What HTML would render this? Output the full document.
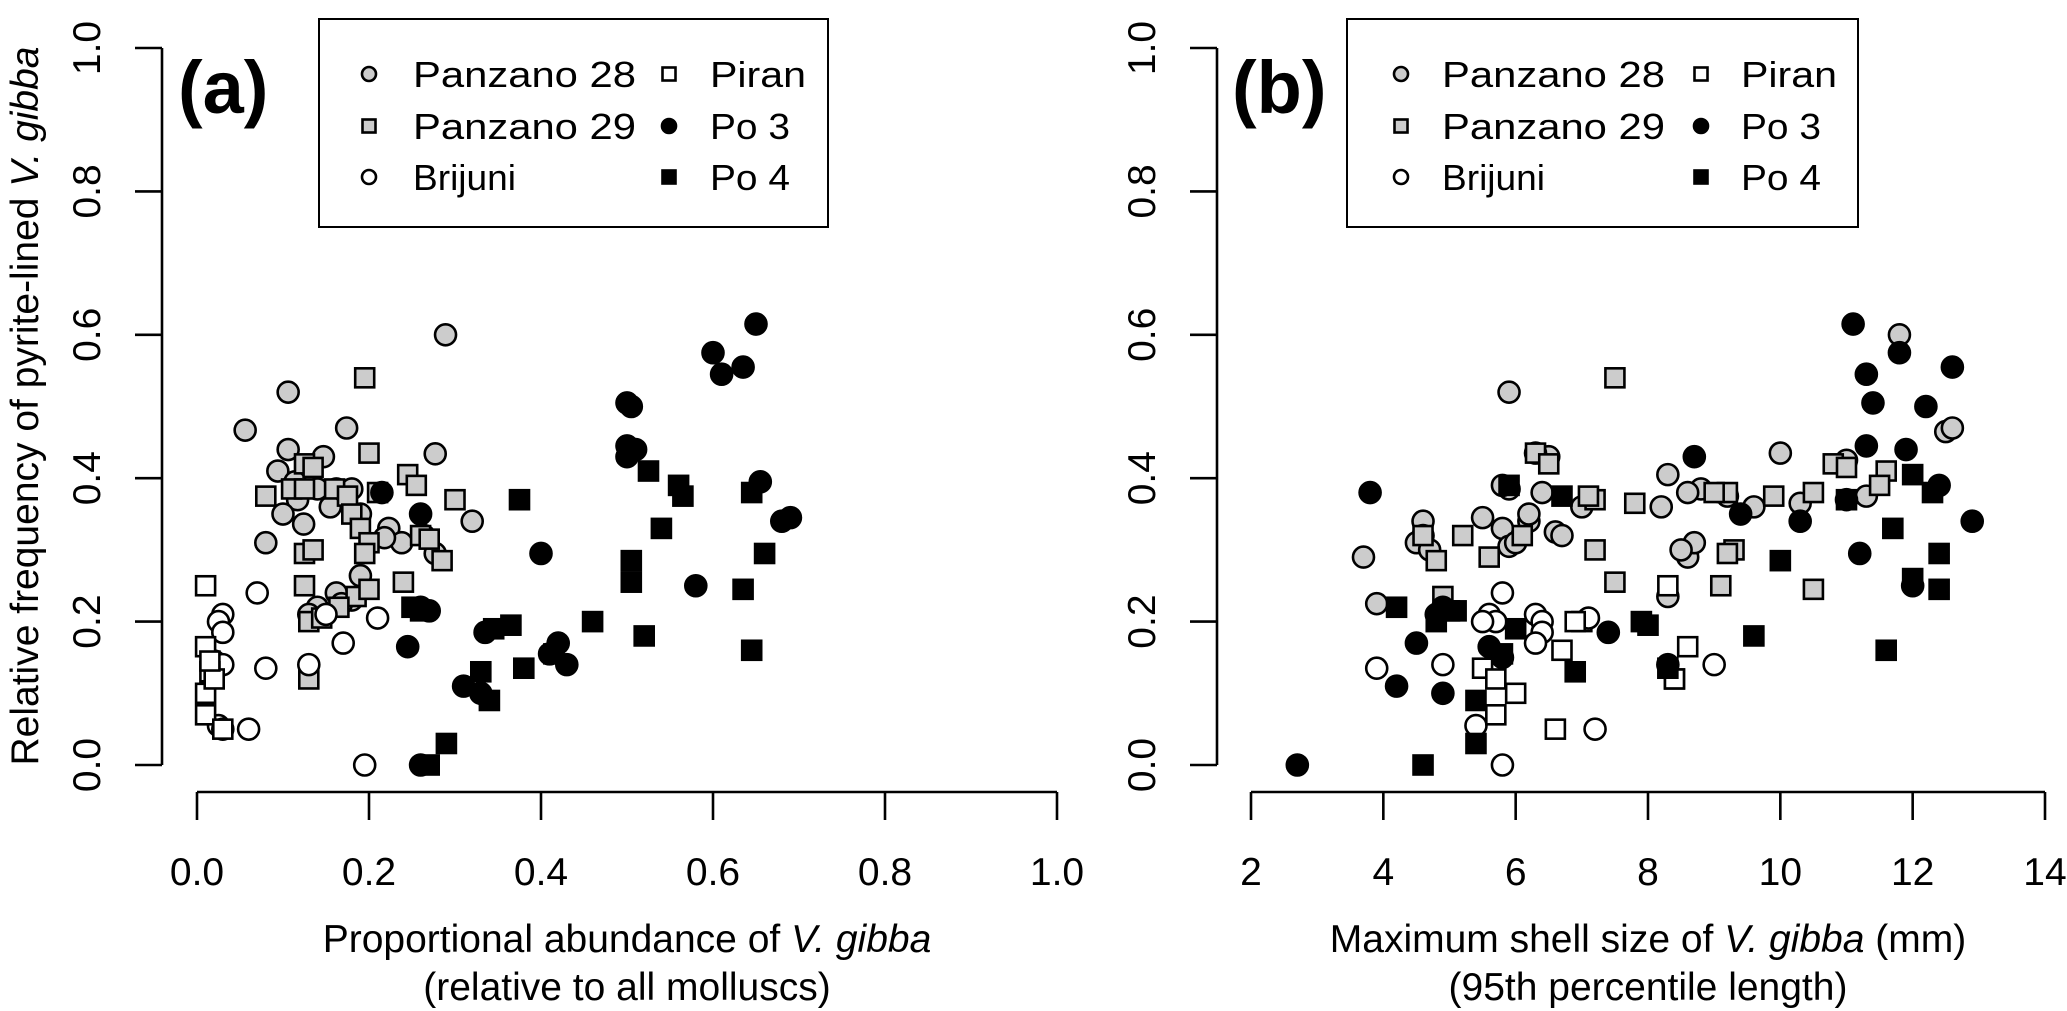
<!DOCTYPE html>
<html><head><meta charset="utf-8"><style>
html,body{margin:0;padding:0;background:#fff;}
svg{display:block;font-family:"Liberation Sans",Arial,sans-serif;}
</style></head><body>
<svg id="chart" width="2067" height="1011" viewBox="0 0 2067 1011" xmlns="http://www.w3.org/2000/svg"></svg>
<script>
// ---- data: panel (a) proportional abundance ----
const groups = ["Panzano 28","Panzano 29","Brijuni","Piran","Po 3","Po 4"];
const aP28x=[0.289,0.106,0.056,0.174,0.106,0.147,0.277,0.094,0.114,0.117,0.14,0.162,0.18,0.19,0.1,0.124,0.155,0.223,0.238,0.264,0.277,0.32,0.218,0.18,0.162,0.19,0.08,0.14,0.168,0.13];
const aP28y=[0.60,0.52,0.467,0.47,0.44,0.43,0.434,0.41,0.395,0.37,0.385,0.385,0.385,0.35,0.35,0.336,0.36,0.33,0.31,0.32,0.295,0.34,0.317,0.23,0.24,0.264,0.31,0.22,0.225,0.21];
const aP29x=[0.195,0.125,0.135,0.2,0.245,0.255,0.08,0.11,0.125,0.16,0.175,0.21,0.3,0.18,0.19,0.2,0.195,0.26,0.27,0.285,0.125,0.135,0.125,0.13,0.185,0.2,0.24,0.145,0.13,0.165];
const aP29y=[0.54,0.42,0.415,0.435,0.405,0.39,0.375,0.385,0.385,0.385,0.375,0.38,0.37,0.35,0.33,0.31,0.295,0.32,0.315,0.285,0.295,0.3,0.25,0.2,0.235,0.245,0.255,0.205,0.12,0.22];
const aBrx=[0.03,0.025,0.03,0.02,0.03,0.07,0.08,0.06,0.025,0.03,0.13,0.15,0.17,0.21,0.195];
const aBry=[0.21,0.2,0.185,0.145,0.14,0.24,0.135,0.05,0.055,0.05,0.14,0.21,0.17,0.205,0.0];
const aPix=[0.01,0.01,0.01,0.015,0.02,0.01,0.03,0.015];
const aPiy=[0.25,0.165,0.1,0.13,0.12,0.07,0.05,0.145];
const aPo3x=[0.65,0.6,0.635,0.61,0.5,0.505,0.5,0.51,0.5,0.655,0.26,0.4,0.58,0.68,0.69,0.27,0.245,0.335,0.42,0.41,0.43,0.31,0.33,0.26,0.215,0.26];
const aPo3y=[0.615,0.575,0.555,0.545,0.505,0.5,0.445,0.44,0.43,0.395,0.35,0.295,0.25,0.34,0.345,0.215,0.165,0.185,0.17,0.155,0.14,0.11,0.1,0.0,0.38,0.22];
const aPo4x=[0.375,0.525,0.56,0.565,0.645,0.505,0.505,0.54,0.66,0.635,0.645,0.52,0.46,0.365,0.345,0.38,0.415,0.33,0.34,0.29,0.27,0.25,0.26];
const aPo4y=[0.37,0.41,0.39,0.375,0.38,0.285,0.255,0.33,0.295,0.245,0.16,0.18,0.2,0.195,0.19,0.135,0.155,0.13,0.09,0.03,0.0,0.22,0.215];
// ---- data: panel (b) maximum shell size ----
const bP28x=[12.5,12.6,11.8,5.9,6.5,6.3,5.9,8.3,10.0,11.0,11.3,10.3,9.2,9.6,8.8,8.6,3.7,4.6,4.6,4.5,4.7,5.5,5.8,6.2,6.6,7.0,5.9,6.0,8.2,8.6,8.7,8.5,8.3,6.7,6.4,3.9,5.8,6.2];
const bP28y=[0.465,0.47,0.6,0.52,0.43,0.435,0.385,0.405,0.435,0.425,0.375,0.365,0.375,0.36,0.385,0.38,0.29,0.34,0.32,0.31,0.3,0.345,0.33,0.34,0.325,0.36,0.305,0.31,0.36,0.29,0.31,0.3,0.235,0.32,0.38,0.225,0.39,0.35];
const bP29x=[7.5,6.3,6.5,10.8,11.0,11.6,10.5,11.5,9.9,9.2,9.0,7.8,7.2,7.1,5.2,6.1,4.8,7.2,9.3,9.2,9.1,10.5,7.5,4.9,4.6,5.6,8.4,7.0];
const bP29y=[0.54,0.435,0.42,0.42,0.415,0.41,0.38,0.39,0.375,0.38,0.38,0.365,0.37,0.375,0.32,0.32,0.285,0.3,0.3,0.295,0.25,0.245,0.255,0.235,0.32,0.29,0.12,0.2];
const bBrx=[5.8,5.6,5.7,6.3,6.4,6.4,6.3,7.1,3.9,4.9,9.0,5.4,7.2,5.8,5.5];
const bBry=[0.24,0.21,0.2,0.21,0.2,0.185,0.17,0.205,0.135,0.14,0.14,0.055,0.05,0.0,0.2];
const bPix=[5.5,5.7,6.0,5.7,6.6,6.7,8.3,8.6,8.4,6.9,5.0];
const bPiy=[0.135,0.12,0.1,0.07,0.05,0.16,0.25,0.165,0.12,0.2,0.215];
const bPo3x=[11.1,11.8,11.3,12.6,11.4,12.2,11.3,11.9,12.4,11.0,8.7,3.8,9.4,10.3,12.9,11.2,12.0,4.8,4.9,4.5,5.6,5.8,7.4,8.3,4.2,4.9,2.7];
const bPo3y=[0.615,0.575,0.545,0.555,0.505,0.5,0.445,0.44,0.39,0.37,0.43,0.38,0.35,0.34,0.34,0.295,0.25,0.21,0.22,0.17,0.165,0.15,0.185,0.14,0.11,0.1,0.0];
const bPo4x=[5.9,6.7,11.0,12.3,12.0,9.6,10.0,11.7,12.4,12.4,12.0,11.6,8.0,6.0,5.8,6.9,4.2,4.8,5.1,5.4,5.4,4.6,8.3,7.9];
const bPo4y=[0.39,0.375,0.37,0.38,0.405,0.18,0.285,0.33,0.295,0.245,0.26,0.16,0.195,0.19,0.155,0.13,0.22,0.2,0.215,0.09,0.03,0.0,0.135,0.2];
const xTicksA=["0.0","0.2","0.4","0.6","0.8","1.0"];
const xTickValsA=[0,0.2,0.4,0.6,0.8,1.0];
const xTicksB=["2","4","6","8","10","12","14"];
const xTickValsB=[2,4,6,8,10,12,14];
const yTicks=["0.0","0.2","0.4","0.6","0.8","1.0"];
const yTickVals=[0,0.2,0.4,0.6,0.8,1.0];

const NS="http://www.w3.org/2000/svg";
const svg=document.getElementById('chart');
function mk(tag,attrs,parent){const e=document.createElementNS(NS,tag);for(const k in attrs)e.setAttribute(k,attrs[k]);(parent||svg).appendChild(e);return e;}
const Y0=765, Y1=48;
function yS(v){return Y0+(Y1-Y0)*v;}
const styles={"Panzano 28":["circle","#cccccc"],"Panzano 29":["square","#cccccc"],"Brijuni":["circle","#ffffff"],"Piran":["square","#ffffff"],"Po 3":["circle","#000000"],"Po 4":["square","#000000"]};
function marker(g,shape,fill,cx,cy,s){
  let e;
  if(shape==="circle"){e=mk('circle',{cx:cx,cy:cy,r:s,fill:fill,stroke:'#000','stroke-width':2.6},g);}
  else{e=mk('rect',{x:cx-s,y:cy-s,width:2*s,height:2*s,fill:fill,stroke:'#000','stroke-width':2.6},g);}
  return e;
}
function panel(id,axX,xmin,xmax,px0,px1,ticks,tickVals,series,title1,title2,lab,labX,legX,legSym1,legSym2,legTxt1,legTxt2,legRight){
  const xS=v=>px0+(px1-px0)*(v-xmin)/(xmax-xmin);
  const g=mk('g',{});
  
  
  const ya=mk('g',{},g);
  
  
  mk('line',{x1:axX,y1:yS(0),x2:axX,y2:yS(1),stroke:'#000','stroke-width':2.6},ya);
  yTickVals.forEach((v,i)=>{
    mk('line',{x1:axX-27,y1:yS(v),x2:axX,y2:yS(v),stroke:'#000','stroke-width':2.6},ya);
    const t=mk('text',{x:axX-62,y:yS(v),'font-size':39,'text-anchor':'middle',transform:`rotate(-90 ${axX-62} ${yS(v)})`},ya);
    
    
    t.textContent=yTicks[i];
  });
  const xa=mk('g',{},g);
  
  
  mk('line',{x1:xS(xmin),y1:792,x2:xS(xmax),y2:792,stroke:'#000','stroke-width':2.6},xa);
  tickVals.forEach((v,i)=>{
    mk('line',{x1:xS(v),y1:792,x2:xS(v),y2:820,stroke:'#000','stroke-width':2.6},xa);
    const t=mk('text',{x:xS(v),y:885,'font-size':39,'text-anchor':'middle'},xa);
    
    
    t.textContent=ticks[i];
  });
  const cx=(xS(xmin)+xS(xmax))/2;
  const t1=mk('text',{x:cx,y:952,'font-size':39,'text-anchor':'middle'},g);
  
  
  t1.innerHTML=title1;
  const t2=mk('text',{x:cx,y:1000,'font-size':39,'text-anchor':'middle'},g);
  
  
  t2.textContent=title2;
  const pl=mk('text',{x:labX,y:113,'font-size':74,'font-weight':'bold'},g);
  
  
  pl.textContent=lab;
  series.forEach(s=>{
    const sg=mk('g',{},g);
    
    
    const st=styles[s.name];
    s.x.forEach((xv,i)=>{
      const m=marker(sg,st[0],st[1],xS(xv),yS(s.y[i]),st[0]==='circle'?10.5:9.5);
      
      
    });
  });
  const lg=mk('g',{},g);
  
  
  mk('rect',{x:legX,y:19,width:legRight-legX,height:208,fill:'#fff',stroke:'#000','stroke-width':2},lg);
  const rows=[74,126,177];
  const widths={"Panzano 28":223,"Panzano 29":223,"Brijuni":103,"Piran":96,"Po 3":80,"Po 4":80};
  groups.forEach((nm,i)=>{
    const col=i<3?0:1,row=i%3;
    const sx=col?legSym2:legSym1, tx=col?legTxt2:legTxt1;
    const st=styles[nm];
    const m=marker(lg,st[0],st[1],sx,rows[row],st[0]==='circle'?7:6.5);
    
    
    const t=mk('text',{x:tx,y:rows[row]+13,'font-size':36,textLength:widths[nm],lengthAdjust:'spacingAndGlyphs'},lg);
    
    
    t.textContent=nm;
  });
}
const seriesA=[{name:"Panzano 28",x:aP28x,y:aP28y},{name:"Panzano 29",x:aP29x,y:aP29y},{name:"Brijuni",x:aBrx,y:aBry},{name:"Piran",x:aPix,y:aPiy},{name:"Po 3",x:aPo3x,y:aPo3y},{name:"Po 4",x:aPo4x,y:aPo4y}];
const seriesB=[{name:"Panzano 28",x:bP28x,y:bP28y},{name:"Panzano 29",x:bP29x,y:bP29y},{name:"Brijuni",x:bBrx,y:bBry},{name:"Piran",x:bPix,y:bPiy},{name:"Po 3",x:bPo3x,y:bPo3y},{name:"Po 4",x:bPo4x,y:bPo4y}];
panel('panel-a',162,0,1,197,1057,xTicksA,xTickValsA,seriesA,'Proportional abundance of <tspan font-style="italic">V. gibba</tspan>','(relative to all molluscs)','(a)',178,319,369,669,413,710,828);
panel('panel-b',1217,2,14,1251,2045,xTicksB,xTickValsB,seriesB,'Maximum shell size of <tspan font-style="italic">V. gibba</tspan> (mm)','(95th percentile length)','(b)',1232,1347,1401,1701,1442,1741,1858);
const yt=mk('text',{x:38,y:406,'font-size':39,'text-anchor':'middle',transform:'rotate(-90 38 406)'});


yt.innerHTML='Relative frequency of pyrite-lined <tspan font-style="italic">V. gibba</tspan>';
</script>
</body></html>
